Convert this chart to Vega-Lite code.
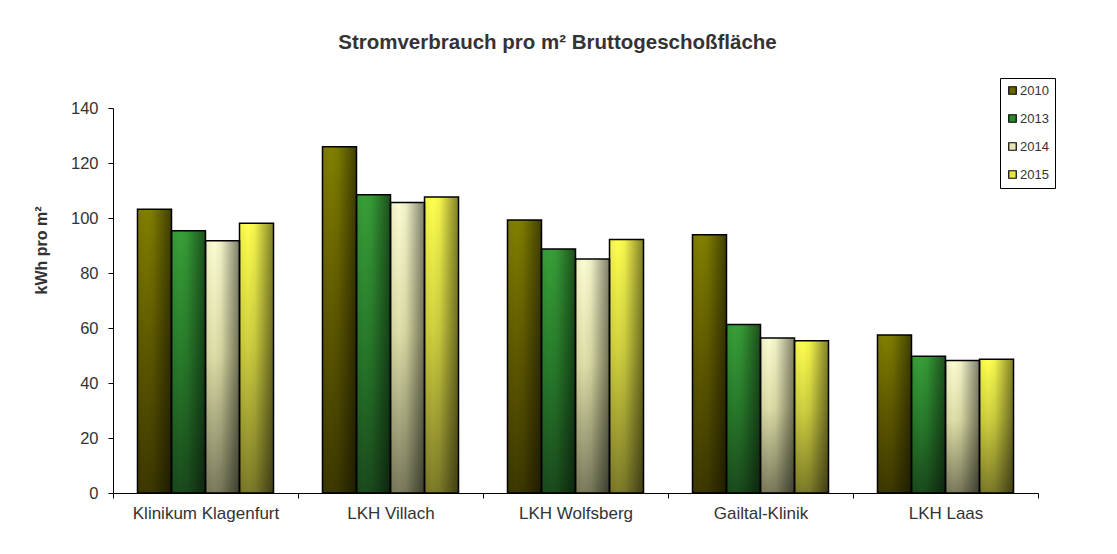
{
  "$schema": "https://vega.github.io/schema/vega-lite/v6.json",
  "width": 925,
  "height": 385,
  "autosize": {"type": "none"},
  "padding": {"left": 113, "top": 108, "right": 79, "bottom": 61},
  "background": "white",
  "title": {
    "text": "Stromverbrauch pro m² Bruttogeschoßfläche",
    "font": "Liberation Sans",
    "fontSize": 20.5,
    "fontWeight": "bold",
    "color": "#333333",
    "anchor": "middle",
    "frame": "group",
    "dx": -18,
    "offset": 24
  },
  "data": {
    "values": [
      {"site": "Klinikum Klagenfurt", "year": "2010", "value": 103.2},
      {"site": "Klinikum Klagenfurt", "year": "2013", "value": 95.4},
      {"site": "Klinikum Klagenfurt", "year": "2014", "value": 91.7},
      {"site": "Klinikum Klagenfurt", "year": "2015", "value": 98.1},
      {"site": "LKH Villach", "year": "2010", "value": 125.9},
      {"site": "LKH Villach", "year": "2013", "value": 108.5},
      {"site": "LKH Villach", "year": "2014", "value": 105.6},
      {"site": "LKH Villach", "year": "2015", "value": 107.6},
      {"site": "LKH Wolfsberg", "year": "2010", "value": 99.3},
      {"site": "LKH Wolfsberg", "year": "2013", "value": 88.7},
      {"site": "LKH Wolfsberg", "year": "2014", "value": 85.1},
      {"site": "LKH Wolfsberg", "year": "2015", "value": 92.2},
      {"site": "Gailtal-Klinik", "year": "2010", "value": 93.9},
      {"site": "Gailtal-Klinik", "year": "2013", "value": 61.3},
      {"site": "Gailtal-Klinik", "year": "2014", "value": 56.4},
      {"site": "Gailtal-Klinik", "year": "2015", "value": 55.4},
      {"site": "LKH Laas", "year": "2010", "value": 57.5},
      {"site": "LKH Laas", "year": "2013", "value": 49.7},
      {"site": "LKH Laas", "year": "2014", "value": 48.2},
      {"site": "LKH Laas", "year": "2015", "value": 48.6}
    ]
  },
  "encoding": {
    "x": {
      "field": "site",
      "type": "nominal",
      "sort": ["Klinikum Klagenfurt", "LKH Villach", "LKH Wolfsberg", "Gailtal-Klinik", "LKH Laas"],
      "scale": {"paddingInner": 0, "paddingOuter": 0},
      "axis": {
        "title": null,
        "labelAngle": 0,
        "tickBand": "extent",
        "tickSize": 5,
        "tickColor": "#000000",
        "domainColor": "#000000",
        "labelFont": "Liberation Sans",
        "labelFontSize": 17,
        "labelColor": "#333333",
        "labelPadding": 7,
        "grid": false
      }
    },
    "xOffset": {
      "field": "year",
      "type": "nominal",
      "scale": {"domain": ["2010", "2013", "2014", "2015"], "paddingInner": 0, "paddingOuter": 0.72}
    },
    "y": {
      "field": "value",
      "type": "quantitative",
      "scale": {"domain": [0, 140], "nice": false},
      "axis": {
        "title": "kWh pro m²",
        "titleFont": "Liberation Sans",
        "titleFontSize": 16,
        "titleFontWeight": "bold",
        "titleColor": "#333333",
        "titlePadding": 21,
        "titleY": 142,
        "values": [0, 20, 40, 60, 80, 100, 120, 140],
        "tickSize": 5,
        "tickColor": "#000000",
        "domainColor": "#000000",
        "labelFont": "Liberation Sans",
        "labelFontSize": 16.5,
        "labelColor": "#333333",
        "labelPadding": 10,
        "grid": false
      }
    }
  },
  "layer": [
    {
      "mark": {"type": "bar"},
      "encoding": {
        "color": {
          "field": "year",
          "type": "nominal",
          "scale": {"domain": ["2010", "2013", "2014", "2015"], "range": ["#6b6600", "#2a8a2a", "#e6e6b0", "#e6e640"]},
          "legend": {
            "title": null,
            "orient": "none",
            "legendX": 887,
            "legendY": -30,
            "strokeColor": "#000000",
            "padding": 6,
            "symbolType": "square",
            "symbolSize": 56,
            "symbolStrokeColor": "#000000",
            "symbolStrokeWidth": 1.2,
            "symbolOpacity": 1,
            "labelFont": "Liberation Sans",
            "labelFontSize": 13,
            "labelColor": "#333333",
            "labelOffset": 1,
            "rowPadding": 14
          }
        }
      }
    },
    {
      "transform": [{"filter": "datum.year === '2010'"}],
      "mark": {"type": "bar", "fill": {"gradient": "linear", "x1": 0, "y1": 0, "x2": 0, "y2": 1, "stops": [{"offset": 0, "color": "#828000"}, {"offset": 0.5, "color": "#5e5800"}, {"offset": 1, "color": "#3c3800"}]}}
    },
    {
      "transform": [{"filter": "datum.year === '2013'"}],
      "mark": {"type": "bar", "fill": {"gradient": "linear", "x1": 0, "y1": 0, "x2": 0, "y2": 1, "stops": [{"offset": 0, "color": "#38a038"}, {"offset": 0.5, "color": "#277a2a"}, {"offset": 1, "color": "#1a4a1c"}]}}
    },
    {
      "transform": [{"filter": "datum.year === '2014'"}],
      "mark": {"type": "bar", "fill": {"gradient": "linear", "x1": 0, "y1": 0, "x2": 0, "y2": 1, "stops": [{"offset": 0, "color": "#fcfcd2"}, {"offset": 0.45, "color": "#dedea8"}, {"offset": 1, "color": "#7a7a5c"}]}}
    },
    {
      "transform": [{"filter": "datum.year === '2015'"}],
      "mark": {"type": "bar", "fill": {"gradient": "linear", "x1": 0, "y1": 0, "x2": 0, "y2": 1, "stops": [{"offset": 0, "color": "#ffff50"}, {"offset": 0.45, "color": "#d0d040"}, {"offset": 1, "color": "#7c7a28"}]}}
    },
    {
      "mark": {
        "type": "bar",
        "stroke": "#000000",
        "strokeWidth": 1.5,
        "fill": {"gradient": "linear", "x1": 0, "y1": 0, "x2": 1, "y2": 0, "stops": [{"offset": 0, "color": "rgba(0,0,0,0.06)"}, {"offset": 0.25, "color": "rgba(0,0,0,0)"}, {"offset": 0.45, "color": "rgba(0,0,0,0.05)"}, {"offset": 1, "color": "rgba(0,0,0,0.5)"}]}
      }
    }
  ],
  "config": {
    "view": {"stroke": null}
  }
}
